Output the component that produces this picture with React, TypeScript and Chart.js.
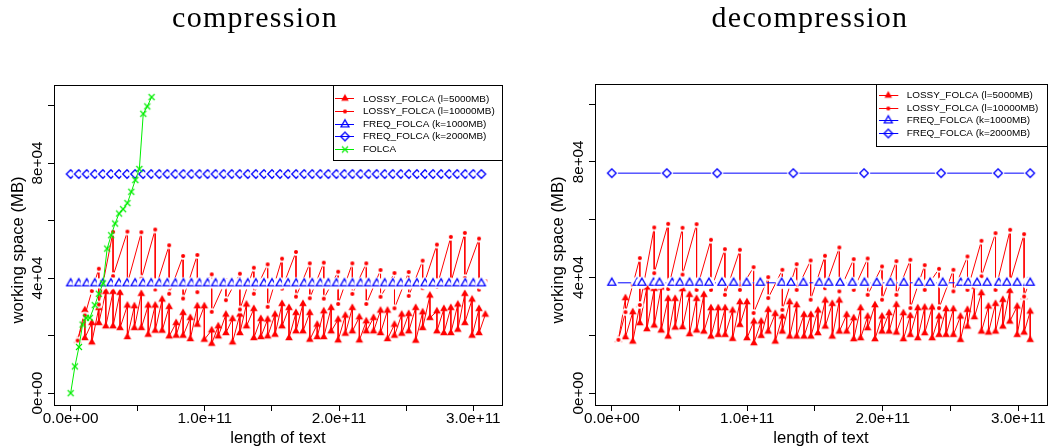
import React, { useEffect, useRef } from 'react';
import { Chart, registerables } from 'chart.js';

Chart.register(...registerables);

// x values are given in units of 1e9 characters of text; y in MB
const X_UNIT = 1e9;

const xTickValues = [0, 50, 100, 150, 200, 250, 300];
const xTickLabels = ['0.0e+00', '', '1.0e+11', '', '2.0e+11', '', '3.0e+11'];
const yTickValues = [0, 20000, 40000, 60000, 80000, 100000];
const yTickLabels = ['0e+00', '', '4e+04', '', '8e+04', ''];

const seriesNames = [
  'LOSSY_FOLCA (l=5000MB)',
  'LOSSY_FOLCA (l=10000MB)',
  'FREQ_FOLCA (k=1000MB)',
  'FREQ_FOLCA (k=2000MB)',
  'FOLCA',
];

// ---------------- compression ----------------
const compLossy5X = [5.2, 10.6, 15.8, 21.0, 26.2, 31.6, 36.8, 42.3, 47.5, 52.7, 57.8, 63.0, 68.2, 73.4, 78.6, 83.8, 89.2, 94.4, 99.6, 105.1, 110.0, 115.7, 120.6, 126.1, 131.0, 136.5, 141.7, 146.8, 152.3, 157.5, 162.7, 167.9, 173.1, 178.2, 183.7, 188.6, 194.1, 199.3, 204.7, 209.9, 215.1, 220.3, 225.7, 230.9, 236.1, 241.3, 246.7, 251.9, 257.1, 262.3, 267.7, 272.9, 278.1, 283.3, 288.5, 293.7, 299.1, 304.3, 309.0];
const compLossy5High = [18300, 28840, 24420, 29660, 35240, 35240, 34890, 30470, 30240, 34540, 30470, 30470, 32560, 30010, 24420, 27910, 26170, 30240, 30240, 21860, 23260, 27330, 25820, 27330, 30820, 29310, 25820, 25590, 27330, 31050, 29660, 27910, 31050, 27910, 23840, 28490, 29660, 25590, 26980, 29660, 26400, 25000, 26170, 28730, 28730, 23840, 27330, 27560, 29660, 28140, 33960, 28490, 29310, 29660, 30820, 34540, 32560, 29310, 27330];
const compLossy5Low = [null, 19190, 17680, 24420, 23260, 23260, 22680, 19540, 22680, 22680, 20350, 21750, 21750, 19770, 20000, 20000, 18840, 23840, 18610, 17210, 19770, 20930, 17680, 20930, 23260, 19190, 19540, 19770, 20350, 23260, 19190, 21520, 21520, 18610, 19540, 19540, 21520, 18380, 20700, 21520, 18380, 21520, 21520, 20930, 18840, 20000, 20700, 21520, 18260, 22680, 26170, 21520, 20930, 20930, 22100, 24420, 20000, 20930, null];

const compLossy10X = [5.2, 10.6, 15.8, 21.0, 31.6, 42.3, 52.7, 63.0, 73.4, 83.8, 94.4, 105.1, 115.7, 126.1, 136.5, 146.8, 157.5, 167.9, 178.2, 188.6, 199.3, 209.9, 220.3, 230.9, 241.3, 251.9, 262.3, 272.9, 283.3, 293.7, 304.3, 309.0];
const compLossy10High = [18300, 27000, 35500, 43260, 56060, 56170, 55940, 56870, 51400, 47680, 48030, 41290, 39310, 41520, 43610, 44770, 46750, 49080, 45120, 45360, 42220, 45120, 45120, 42800, 41750, 42100, 46050, 51640, 54310, 55710, 53730, 39000];
const compLossy10Low = [null, null, null, 30800, 40700, 38150, 39770, 36050, 34540, 32900, 35100, 28260, 32330, 29080, 34540, 30000, 36340, 33550, 33000, 32850, 31000, 34500, 31000, 33500, 29500, 33800, 36500, 37000, 38500, 40000, 36000, null];

const compFreqX = [0, 6, 12, 18, 24, 30, 36, 42, 48, 54, 60, 66, 72, 78, 84, 90, 96, 102, 108, 114, 120, 126, 132, 138, 144, 150, 156, 162, 168, 174, 180, 186, 192, 198, 204, 210, 216, 222, 228, 234, 240, 246, 252, 258, 264, 270, 276, 282, 288, 294, 300, 306];
const compFreq1000Y = [38150, 38150, 38150, 38150, 38150, 38150, 38150, 38150, 38150, 38150, 38150, 38150, 38150, 38150, 38150, 38150, 38150, 38150, 38150, 38150, 38150, 38150, 38150, 38150, 38150, 38150, 38150, 38150, 38150, 38150, 38150, 38150, 38150, 38150, 38150, 38150, 38150, 38150, 38150, 38150, 38150, 38150, 38150, 38150, 38150, 38150, 38150, 38150, 38150, 38150, 38150, 38150];
const compFreq2000Y = [76180, 76180, 76180, 76180, 76180, 76180, 76180, 76180, 76180, 76180, 76180, 76180, 76180, 76180, 76180, 76180, 76180, 76180, 76180, 76180, 76180, 76180, 76180, 76180, 76180, 76180, 76180, 76180, 76180, 76180, 76180, 76180, 76180, 76180, 76180, 76180, 76180, 76180, 76180, 76180, 76180, 76180, 76180, 76180, 76180, 76180, 76180, 76180, 76180, 76180, 76180, 76180];

const compFolcaX = [0, 3.2, 6.2, 8.9, 11.4, 14.3, 18.0, 21.0, 24.2, 27.2, 30.2, 33.1, 36.1, 39.1, 42.3, 45.2, 48.2, 51.2, 54.1, 57.1, 60.3];
const compFolcaY = [0, 9300, 16050, 23840, 26170, 26170, 30590, 34540, 38150, 50240, 54890, 58960, 62450, 63960, 66060, 70010, 74080, 77920, 97110, 99670, 102920];

// ---------------- decompression ----------------
const decLossy5X = [4.9, 10.1, 15.5, 20.7, 25.9, 31.3, 36.5, 41.6, 46.8, 52.2, 57.4, 62.6, 68.0, 73.2, 78.6, 83.7, 89.2, 94.6, 99.8, 104.9, 110.3, 115.5, 120.7, 125.9, 131.3, 136.5, 141.9, 147.0, 152.2, 157.6, 162.8, 168.0, 173.4, 178.6, 183.7, 188.9, 194.3, 199.5, 204.7, 210.1, 215.3, 220.4, 225.9, 231.0, 236.5, 241.6, 246.8, 252.2, 257.4, 262.6, 267.7, 272.9, 278.1, 283.3, 288.7, 293.8, 299.3, 304.4, 308.9];
const decLossy5High = [18450, 32860, 28020, 30550, 36550, 36090, 36550, 32630, 32630, 35970, 34010, 32630, 34010, 29400, 29400, 29400, 28590, 31480, 31480, 24790, 24790, 28830, 27440, 26520, 31480, 30440, 27100, 27100, 28590, 32050, 30900, 32050, 27100, 25940, 29400, 26520, 30440, 26520, 27670, 30550, 27670, 26750, 29400, 29630, 29630, 26520, 29060, 29060, 26520, 28830, 36900, 34590, 29980, 30900, 32280, 35400, 29980, 33210, 28250];
const decLossy5Low = [null, 19370, 17870, 24210, 22140, 23410, 21680, 19600, 22710, 22830, 20410, 21680, 21330, 19600, 20180, 20180, 18790, 23640, 19020, 17300, 19830, 21330, 17870, 21330, 19600, 19600, 19600, 19600, 20750, 23060, 19600, 21330, 21330, 18680, 19020, 22480, 18680, 21330, 21330, 20980, 18680, 20180, 19020, 20750, 19020, 20180, 20180, 20180, 18450, 23060, 26290, 21330, 20980, 21330, 23060, 24790, 20180, 20980, 18450];

const decLossy10X = [4.9, 10.1, 15.5, 20.7, 31.3, 41.6, 52.2, 62.6, 73.2, 83.5, 94.6, 104.7, 115.5, 125.9, 136.5, 146.8, 157.4, 168.0, 178.6, 188.9, 199.5, 210.1, 220.4, 231.0, 241.6, 252.2, 262.6, 272.9, 283.3, 294.1, 304.4, 308.9];
const decLossy10High = [18450, 28000, 37500, 46700, 57300, 58570, 57190, 58460, 53040, 49810, 49580, 43580, 40120, 42660, 44620, 45890, 47500, 50390, 46350, 46580, 43810, 45660, 46120, 44270, 43000, 42660, 47270, 52690, 55340, 56500, 55000, 39200];
const decLossy10Low = [null, null, null, 30500, 41500, 36000, 41000, 35700, 35700, 34000, 35700, 27700, 32900, 28800, 35700, 32300, 36300, 35200, 35700, 34000, 32300, 34000, 29400, 35700, 29400, 35200, 35700, 40400, 35700, 38600, 33400, null];

const decFreq1000X = [0, 18.7, 22.2, 30.8, 35.2, 44.6, 50.2, 57.4, 64.8, 71.7, 81.3, 89.9, 99.5, 109.6, 125.4, 132.3, 141.4, 153.2, 160.1, 168.5, 177.6, 186.5, 195.6, 205.7, 215.5, 226.6, 235.0, 244.3, 257.6, 263.1, 269.7, 277.1, 285.7, 291.6, 299.3, 307.1, 308.9];
const decFreq1000Y = [38160, 38160, 38160, 38160, 38160, 38160, 38160, 38160, 38160, 38160, 38160, 38160, 38160, 38160, 38160, 38160, 38160, 38160, 38160, 38160, 38160, 38160, 38160, 38160, 38160, 38160, 38160, 38160, 38160, 38160, 38160, 38160, 38160, 38160, 38160, 38160, 38160];
const decFreq2000X = [0, 40.6, 77.8, 134.0, 186.2, 243.1, 285.2, 308.9];
const decFreq2000Y = [76100, 76100, 76100, 76100, 76100, 76100, 76100, 76100];

// ---------------- helpers ----------------
type Pt = { x: number; y: number };

function toPoints(xs: number[], ys: number[]): Pt[] {
  return xs.map((x, i) => ({ x: x * X_UNIT, y: ys[i] }));
}

function sawPoints(xs: number[], hi: number[], lo: (number | null)[]): Pt[] {
  const pts: Pt[] = [];
  xs.forEach((x, i) => {
    pts.push({ x: x * X_UNIT, y: hi[i] });
    const l = lo[i];
    if (l !== null && l !== undefined) pts.push({ x: x * X_UNIT, y: l });
  });
  return pts;
}

const RED = '#ff0000';
const BLUE = '#0000ff';
const GREEN = '#00ee00';

function makeMarker(kind: string, halo: number): HTMLCanvasElement {
  const size = 16;
  const m = 8;
  const c = document.createElement('canvas');
  c.width = size;
  c.height = size;
  const g = c.getContext('2d') as CanvasRenderingContext2D;
  if (halo > 0) {
    g.fillStyle = '#ffffff';
    g.beginPath();
    g.arc(m, m, halo, 0, Math.PI * 2);
    g.fill();
  }
  const tri = (r: number) => {
    g.beginPath();
    g.moveTo(m, m - r);
    g.lineTo(m + r * 0.866, m + r * 0.5);
    g.lineTo(m - r * 0.866, m + r * 0.5);
    g.closePath();
  };
  if (kind === 'redTri') {
    g.fillStyle = RED;
    tri(4.4);
    g.fill();
  } else if (kind === 'redDot') {
    g.fillStyle = RED;
    g.beginPath();
    g.arc(m, m, 2, 0, Math.PI * 2);
    g.fill();
  } else if (kind === 'blueTri') {
    g.strokeStyle = BLUE;
    g.lineWidth = 1.3;
    tri(4.6);
    g.stroke();
  } else if (kind === 'blueDia') {
    g.strokeStyle = BLUE;
    g.lineWidth = 1.3;
    g.beginPath();
    g.moveTo(m, m - 4.3);
    g.lineTo(m + 4.3, m);
    g.lineTo(m, m + 4.3);
    g.lineTo(m - 4.3, m);
    g.closePath();
    g.stroke();
  } else if (kind === 'greenX') {
    g.strokeStyle = GREEN;
    g.lineWidth = 1.2;
    g.beginPath();
    g.moveTo(m - 3, m - 3);
    g.lineTo(m + 3, m + 3);
    g.moveTo(m + 3, m - 3);
    g.lineTo(m - 3, m + 3);
    g.stroke();
  }
  return c;
}

const markerKinds = ['redTri', 'redDot', 'blueTri', 'blueDia', 'greenX'];
const seriesColors = [RED, RED, BLUE, BLUE, GREEN];
const seriesOrder = [4, 3, 1, 2, 0];
const haloRadii = [0, 3.8, 6.2, 6.2, 0];

type PanelLayout = {
  width: number;
  top: number;
  left: number;
  padRight: number;
  bottom: number;
  yTickX: number;
  yTitleX: number;
  yTitleY: number;
  xTickY: number;
  xTitleY: number;
  legendLeft: number;
  legendTop: number;
  legendBottom: number;
  legendCount: number;
  legendY0: number;
  legendDy: number;
  legendLine0: number;
  legendLine1: number;
  legendMark: number;
  legendText: number;
};

const SANS = '"Liberation Sans", Arial, Helvetica, sans-serif';

// font size that makes `text` exactly `target` px wide
function fitFont(ctx: CanvasRenderingContext2D, text: string, target: number): number {
  ctx.font = `20px ${SANS}`;
  const w = ctx.measureText(text).width;
  return w > 0 ? (20 * target) / w : 10;
}

function decoPlugin(L: PanelLayout) {
  return {
    id: 'panelDeco',
    afterDraw(chart: any) {
      const ctx: CanvasRenderingContext2D = chart.ctx;
      const a = chart.chartArea;
      const xs = chart.scales.x;
      const ys = chart.scales.y;
      ctx.save();
      const legendSize = fitFont(ctx, 'LOSSY_FOLCA (l=10000MB)', 132);
      const tickSize = fitFont(ctx, '0.0e+00', 55.7);
      const titleSize = fitFont(ctx, 'length of text', 95.5);
      // legend box
      const lr = Math.round(a.right) + 0.5;
      const lx = Math.round(L.legendLeft) + 0.5;
      const lt = Math.round(L.legendTop) + 0.5;
      const lb = Math.round(L.legendBottom) + 0.5;
      ctx.fillStyle = '#ffffff';
      ctx.fillRect(lx, lt, lr - lx, lb - lt);
      ctx.strokeStyle = '#000';
      ctx.lineWidth = 1;
      ctx.strokeRect(lx, lt, lr - lx, lb - lt);
      ctx.font = `${legendSize}px ${SANS}`;
      ctx.textAlign = 'left';
      ctx.textBaseline = 'middle';
      for (let i = 0; i < L.legendCount; i++) {
        const y = L.legendY0 + i * L.legendDy;
        ctx.strokeStyle = seriesColors[i];
        ctx.lineWidth = 1;
        ctx.beginPath();
        ctx.moveTo(L.legendLine0, Math.round(y) + 0.5);
        ctx.lineTo(L.legendLine1, Math.round(y) + 0.5);
        ctx.stroke();
        const img = makeMarker(markerKinds[i], 0);
        ctx.drawImage(img, L.legendMark - 8, Math.round(y) + 0.5 - 8);
        ctx.fillStyle = '#000';
        ctx.fillText(seriesNames[i], L.legendText, y + 0.5);
      }
      // plot box
      ctx.strokeStyle = '#000';
      ctx.lineWidth = 1;
      const bl = Math.round(a.left) + 0.5;
      const bt = Math.round(a.top) + 0.5;
      const br = Math.round(a.right) + 0.5;
      const bb = Math.round(a.bottom) + 0.5;
      ctx.strokeRect(bl, bt, br - bl, bb - bt);
      // tick labels
      ctx.fillStyle = '#000';
      ctx.font = `${tickSize}px ${SANS}`;
      ctx.textAlign = 'center';
      ctx.textBaseline = 'middle';
      xTickValues.forEach((v, i) => {
        const lab = xTickLabels[i];
        if (!lab) return;
        ctx.fillText(lab, xs.getPixelForValue(v * X_UNIT), L.xTickY);
      });
      yTickValues.forEach((v, i) => {
        const lab = yTickLabels[i];
        if (!lab) return;
        ctx.save();
        ctx.translate(L.yTickX, ys.getPixelForValue(v));
        ctx.rotate(-Math.PI / 2);
        ctx.fillText(lab, 0, 0);
        ctx.restore();
      });
      // axis titles
      ctx.font = `${titleSize}px ${SANS}`;
      ctx.fillText('length of text', (a.left + a.right) / 2, L.xTitleY);
      ctx.save();
      ctx.translate(L.yTitleX, L.yTitleY);
      ctx.rotate(-Math.PI / 2);
      ctx.fillText('working space (MB)', 0, 0);
      ctx.restore();
      ctx.restore();
    },
  };
}

function buildChart(canvas: HTMLCanvasElement, series: Pt[][], L: PanelLayout, xMax: number) {
  const datasets: any[] = [];
  series.forEach((pts, i) => {
    if (!pts.length) return;
    datasets.push({
      label: seriesNames[i],
      data: pts,
      showLine: true,
      borderColor: seriesColors[i],
      backgroundColor: seriesColors[i],
      borderWidth: 1,
      pointStyle: makeMarker(markerKinds[i], haloRadii[i]),
      pointRadius: 5,
      pointHoverRadius: 5,
      tension: 0,
      order: seriesOrder[i],
    });
  });
  return new Chart(canvas, {
    type: 'scatter',
    data: { datasets },
    options: {
      animation: false,
      responsive: false,
      devicePixelRatio: 1,
      events: [],
      layout: { padding: { left: 0, top: L.top, right: L.padRight, bottom: 0 } },
      plugins: {
        legend: { display: false },
        tooltip: { enabled: false },
        title: { display: false },
      },
      scales: {
        x: {
          type: 'linear',
          min: -12.4 * X_UNIT,
          max: xMax * X_UNIT,
          afterBuildTicks: (s: any) => {
            s.ticks = xTickValues.map((v) => ({ value: v * X_UNIT }));
          },
          afterFit: (s: any) => {
            s.height = 448 - L.bottom;
          },
          ticks: { display: false },
          grid: { drawOnChartArea: false, drawTicks: true, tickLength: 6, color: '#000', lineWidth: 1 },
          border: { display: false },
        },
        y: {
          type: 'linear',
          min: -4120,
          max: 107120,
          afterBuildTicks: (s: any) => {
            s.ticks = yTickValues.map((v) => ({ value: v }));
          },
          afterFit: (s: any) => {
            s.width = L.left;
          },
          ticks: { display: false },
          grid: { drawOnChartArea: false, drawTicks: true, tickLength: 6, color: '#000', lineWidth: 1 },
          border: { display: false },
        },
      },
    } as any,
    plugins: [decoPlugin(L)],
  });
}

const leftLayout: PanelLayout = {
  width: 527,
  top: 85,
  left: 54,
  padRight: 25,
  bottom: 405,
  yTickX: 37.5,
  yTitleX: 18.3,
  yTitleY: 250,
  xTickY: 418.5,
  xTitleY: 438.5,
  legendLeft: 332.7,
  legendTop: 85,
  legendBottom: 160,
  legendCount: 5,
  legendY0: 98.3,
  legendDy: 12.6,
  legendLine0: 335,
  legendLine1: 354,
  legendMark: 345,
  legendText: 363,
};

const rightLayout: PanelLayout = {
  width: 528,
  top: 83.5,
  left: 68,
  padRight: 8,
  bottom: 405,
  yTickX: 52,
  yTitleX: 31,
  yTitleY: 250,
  xTickY: 418.5,
  xTitleY: 438.5,
  legendLeft: 349,
  legendTop: 83.5,
  legendBottom: 145.7,
  legendCount: 4,
  legendY0: 95,
  legendDy: 12.6,
  legendLine0: 352,
  legendLine1: 371.3,
  legendMark: 361.3,
  legendText: 379.7,
};

const titleStyle = (center: number): React.CSSProperties => ({
  position: 'absolute',
  left: center - 200,
  width: 400,
  top: 2,
  textAlign: 'center',
  fontFamily: '"Liberation Serif", "Times New Roman", serif',
  fontSize: 30,
  lineHeight: '30px',
  letterSpacing: '1.3px',
  color: '#000',
  whiteSpace: 'nowrap',
});

export default function App() {
  const leftRef = useRef<HTMLCanvasElement>(null);
  const rightRef = useRef<HTMLCanvasElement>(null);

  useEffect(() => {
    const compSeries: Pt[][] = [
      sawPoints(compLossy5X, compLossy5High, compLossy5Low),
      sawPoints(compLossy10X, compLossy10High, compLossy10Low),
      toPoints(compFreqX, compFreq1000Y),
      toPoints(compFreqX, compFreq2000Y),
      toPoints(compFolcaX, compFolcaY),
    ];
    const decSeries: Pt[][] = [
      sawPoints(decLossy5X, decLossy5High, decLossy5Low),
      sawPoints(decLossy10X, decLossy10High, decLossy10Low),
      toPoints(decFreq1000X, decFreq1000Y),
      toPoints(decFreq2000X, decFreq2000Y),
      [],
    ];
    const c1 = buildChart(leftRef.current as HTMLCanvasElement, compSeries, leftLayout, 321.4);
    const c2 = buildChart(rightRef.current as HTMLCanvasElement, decSeries, rightLayout, 321.3);
    return () => {
      c1.destroy();
      c2.destroy();
    };
  }, []);

  return (
    <div style={{ position: 'absolute', left: 0, top: 0, width: 1055, height: 448, background: '#fff', overflow: 'hidden' }}>
      <canvas ref={leftRef} width={527} height={448} style={{ position: 'absolute', left: 0, top: 0, width: 527, height: 448 }} />
      <canvas ref={rightRef} width={528} height={448} style={{ position: 'absolute', left: 527, top: 0, width: 528, height: 448 }} />
      <div style={titleStyle(255)}>compression</div>
      <div style={titleStyle(810)}>decompression</div>
    </div>
  );
}
